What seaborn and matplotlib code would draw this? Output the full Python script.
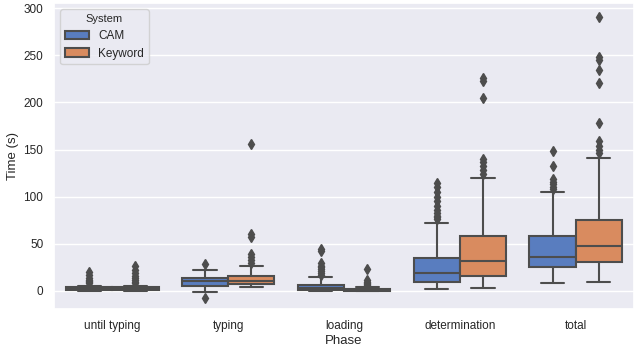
import numpy as np
import pandas as pd
import seaborn as sns
import matplotlib
matplotlib.use("Agg")
import matplotlib.pyplot as plt

phases = ["until typing", "typing", "loading", "determination", "total"]
systems = ["CAM", "Keyword"]

# box statistics: (phase, system) -> values
q1 = {
    ("until typing", "CAM"): 1.0, ("until typing", "Keyword"): 1.0,
    ("typing", "CAM"): 5.5, ("typing", "Keyword"): 7.0,
    ("loading", "CAM"): 1.0, ("loading", "Keyword"): 0.3,
    ("determination", "CAM"): 10.0, ("determination", "Keyword"): 16.0,
    ("total", "CAM"): 25.0, ("total", "Keyword"): 31.0,
}
median = {
    ("until typing", "CAM"): 2.5, ("until typing", "Keyword"): 2.5,
    ("typing", "CAM"): 10.5, ("typing", "Keyword"): 10.5,
    ("loading", "CAM"): 2.8, ("loading", "Keyword"): 0.8,
    ("determination", "CAM"): 19.0, ("determination", "Keyword"): 32.0,
    ("total", "CAM"): 36.5, ("total", "Keyword"): 48.0,
}
q3 = {
    ("until typing", "CAM"): 4.0, ("until typing", "Keyword"): 4.0,
    ("typing", "CAM"): 13.5, ("typing", "Keyword"): 16.0,
    ("loading", "CAM"): 6.7, ("loading", "Keyword"): 1.8,
    ("determination", "CAM"): 35.5, ("determination", "Keyword"): 58.0,
    ("total", "CAM"): 58.0, ("total", "Keyword"): 75.5,
}
whisker_low = {
    ("until typing", "CAM"): 0.0, ("until typing", "Keyword"): 0.0,
    ("typing", "CAM"): -1.0, ("typing", "Keyword"): 4.6,
    ("loading", "CAM"): 0.0, ("loading", "Keyword"): 0.0,
    ("determination", "CAM"): 2.5, ("determination", "Keyword"): 3.5,
    ("total", "CAM"): 8.8, ("total", "Keyword"): 9.9,
}
whisker_high = {
    ("until typing", "CAM"): 5.0, ("until typing", "Keyword"): 5.0,
    ("typing", "CAM"): 22.5, ("typing", "Keyword"): 26.0,
    ("loading", "CAM"): 15.0, ("loading", "Keyword"): 4.0,
    ("determination", "CAM"): 72.5, ("determination", "Keyword"): 120.0,
    ("total", "CAM"): 104.5, ("total", "Keyword"): 140.5,
}
outliers = {
    ("until typing", "CAM"): [9, 10, 11, 12, 14, 17, 20],
    ("until typing", "Keyword"): [9, 10, 12, 14, 16, 19, 22, 26],
    ("typing", "CAM"): [-7, 28.7],
    ("typing", "Keyword"): [30, 33, 36, 39, 57, 60, 156],
    ("loading", "CAM"): [17, 19, 21, 23, 25, 27, 30, 42, 44],
    ("loading", "Keyword"): [5, 6, 7, 8, 10, 12, 23],
    ("determination", "CAM"): [76, 78, 80, 83, 86, 90, 95, 100, 105, 110, 114],
    ("determination", "Keyword"): [124, 128, 133, 137, 140, 205, 223, 226],
    ("total", "CAM"): [108, 110, 113, 116, 119, 133, 148],
    ("total", "Keyword"): [146, 150, 154, 159, 178, 220, 234, 245, 248, 290],
}

# build a sample per group that reproduces the read statistics exactly
rows = []
m = 50
for p in phases:
    for s in systems:
        k = (p, s)
        vals = ([whisker_low[k]] + [q1[k]] * m + [median[k]] * m
                + [q3[k]] * m + [whisker_high[k]] + list(outliers[k]))
        for v in vals:
            rows.append({"Phase": p, "System": s, "Time (s)": v})
df = pd.DataFrame(rows)

sns.set_theme(style="darkgrid")
plt.rcParams["font.family"] = ["Liberation Sans", "DejaVu Sans"]

fig, ax = plt.subplots(figsize=(6.4, 3.49), dpi=100)
gray = "#4d4d4d"
sns.boxplot(
    data=df, x="Phase", y="Time (s)", hue="System",
    order=phases, hue_order=systems, palette="muted", saturation=0.75,
    linecolor=gray, linewidth=1.5, ax=ax,
    flierprops=dict(marker="d", markersize=5, markerfacecolor=gray,
                    markeredgecolor=gray),
)
ax.set_ylim(-19.5, 305)
ax.set_yticks([0, 50, 100, 150, 200, 250, 300])
ax.tick_params(axis="both", labelsize=8.5, pad=2)
ax.set_xlabel("Phase", fontsize=9.5, labelpad=2)
ax.set_ylabel("Time (s)", fontsize=9.5, labelpad=3)
leg = ax.legend(title="System", loc="upper left", fontsize=8.5, title_fontsize=8)
fig.subplots_adjust(left=0.085, right=0.99, top=0.9905, bottom=0.1135)
fig.savefig("out.png", dpi=100)
